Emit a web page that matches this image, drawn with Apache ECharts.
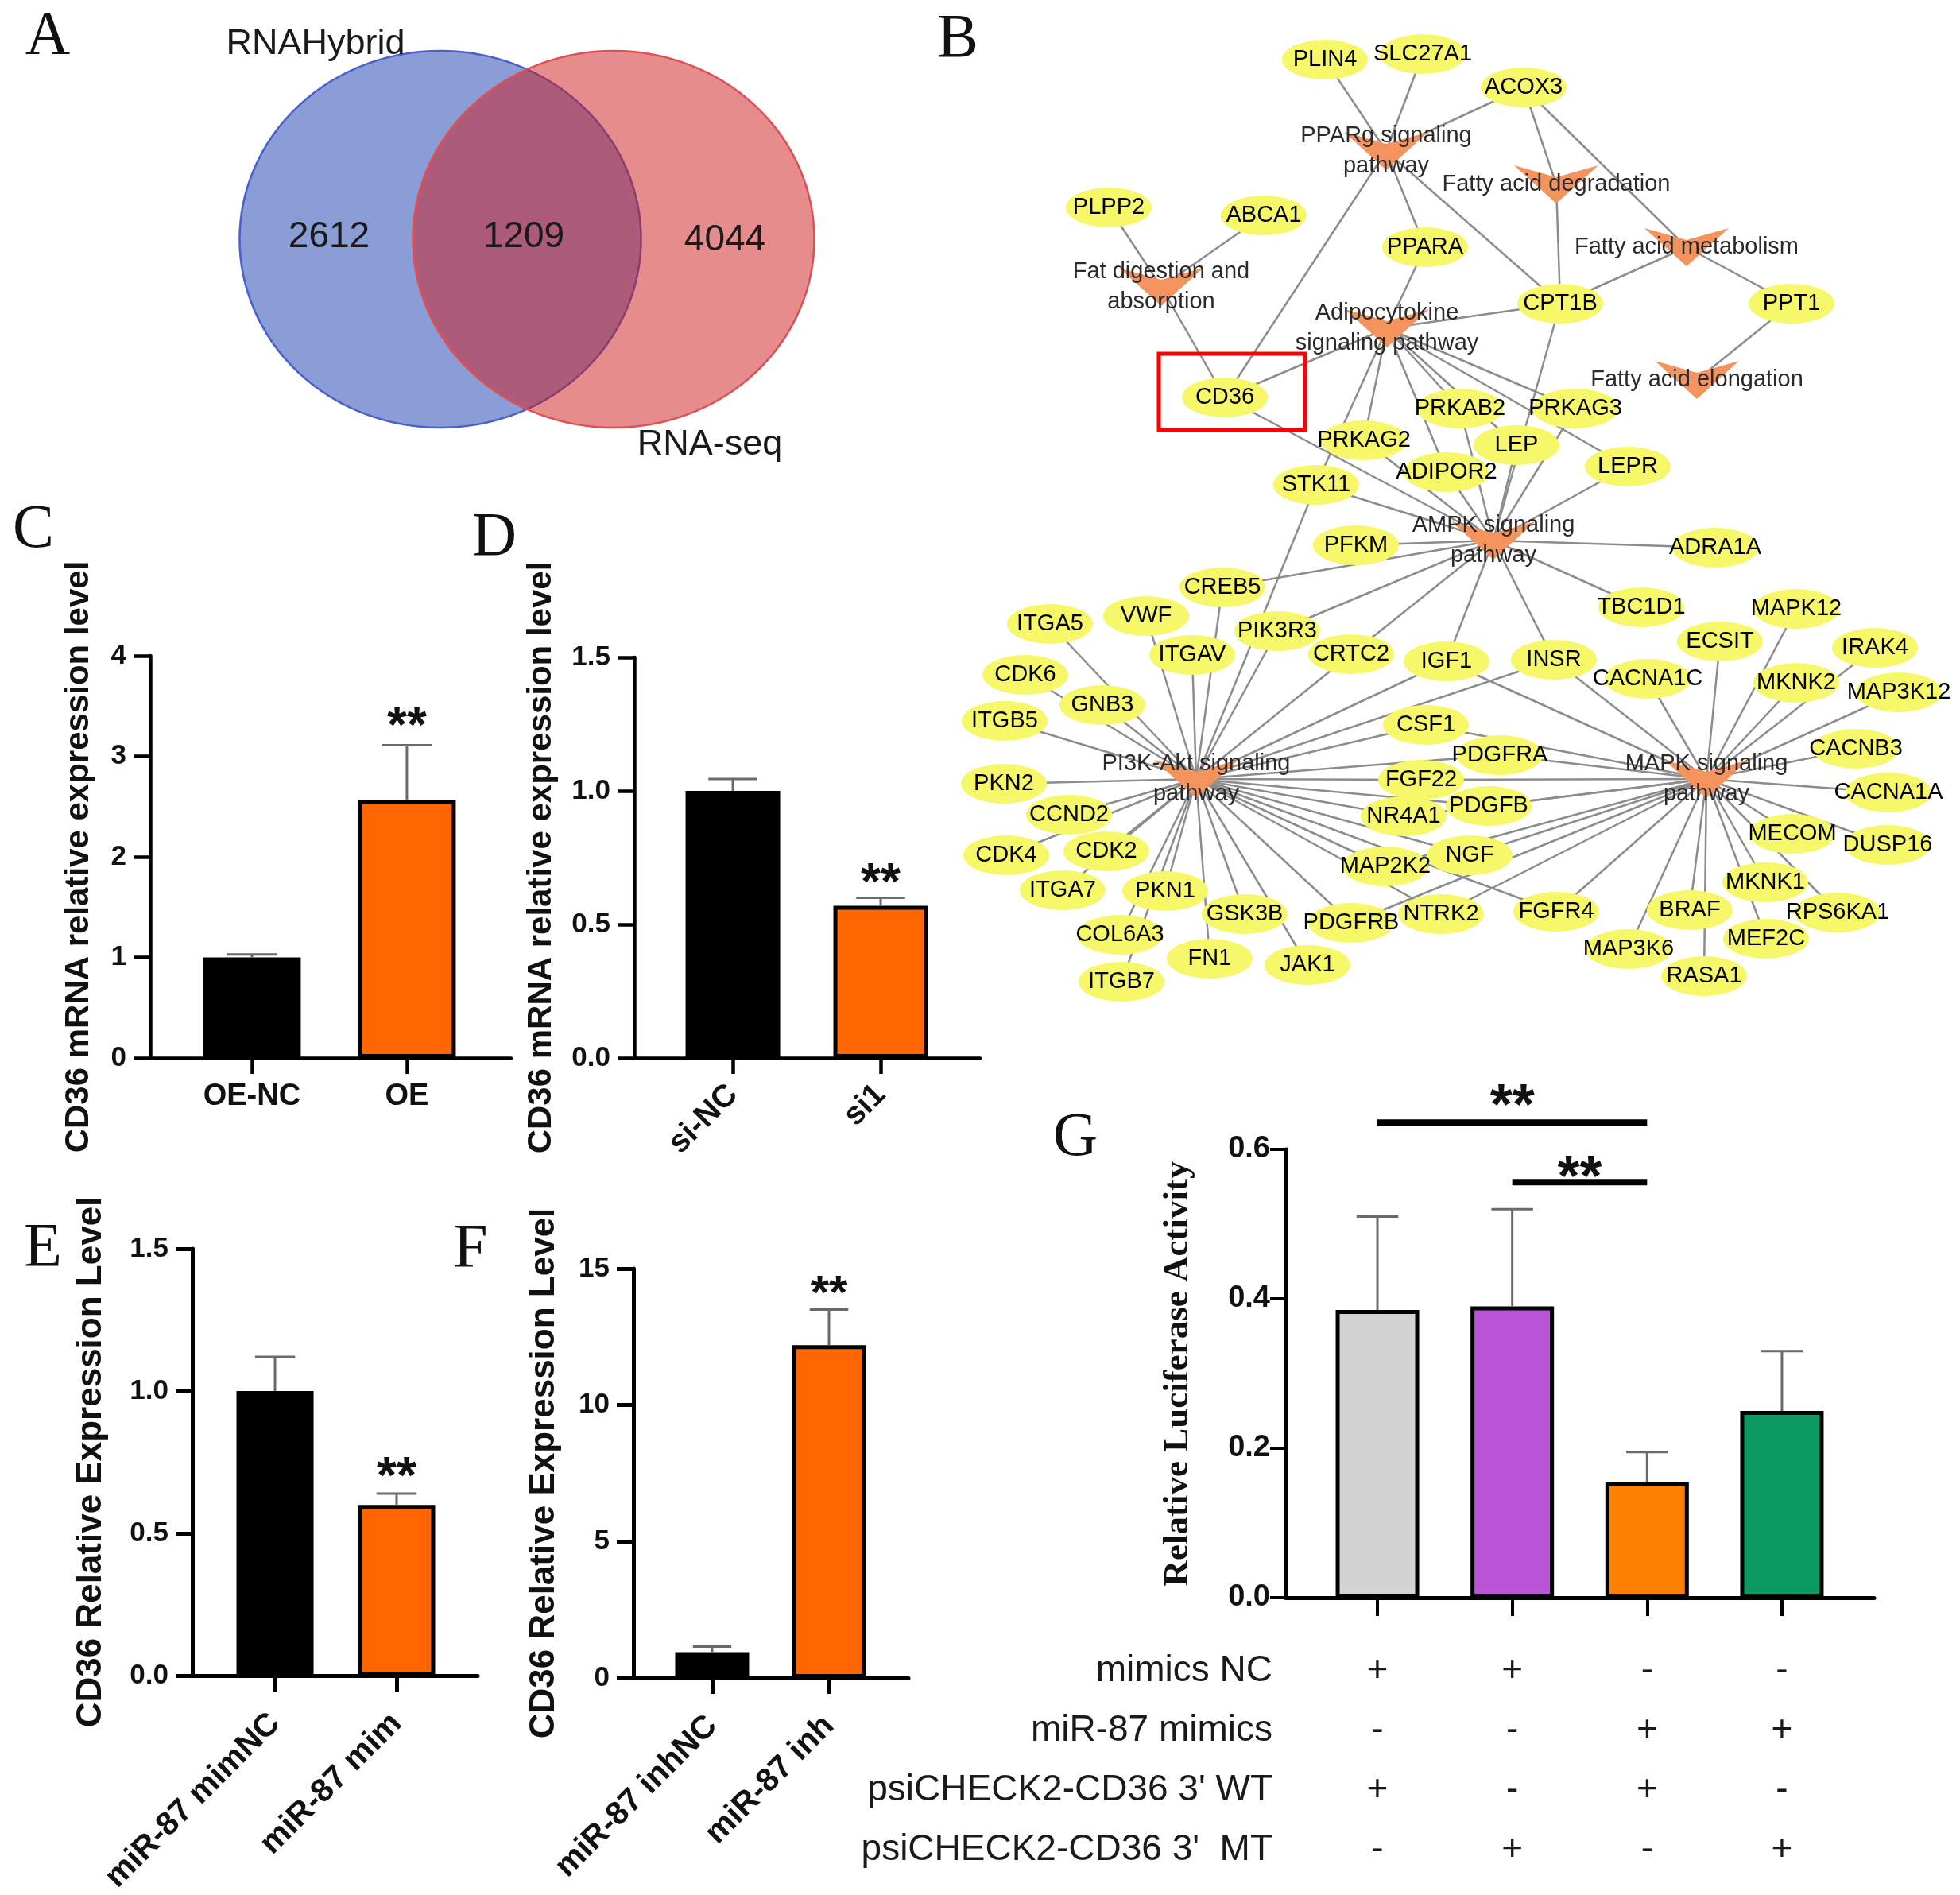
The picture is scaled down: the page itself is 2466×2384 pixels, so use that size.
<!DOCTYPE html>
<html><head><meta charset="utf-8">
<script src="https://cdn.jsdelivr.net/npm/echarts@6/dist/echarts.min.js"></script>
<style>html,body{margin:0;padding:0;background:#fff}#c{width:2466px;height:2384px}</style>
</head><body><div id="c"></div>
<script>
// ===================== DATA =====================
// Panel A (Venn)
const vennSets = ['RNAHybrid', 'RNA-seq'];
const vennCounts = [2612, 1209, 4044]; // RNAHybrid only, both, RNA-seq only

// Panel B (network)
const pathwayNames = ['PPARg signaling pathway', 'Fatty acid degradation', 'Fatty acid metabolism',
  'Fat digestion and absorption', 'Adipocytokine signaling pathway', 'Fatty acid elongation',
  'AMPK signaling pathway', 'PI3K-Akt signaling pathway', 'MAPK signaling pathway'];
const pathwayLabels = ['PPARg signaling\npathway', 'Fatty acid degradation', 'Fatty acid metabolism',
  'Fat digestion and\nabsorption', 'Adipocytokine\nsignaling pathway', 'Fatty acid elongation',
  'AMPK signaling\npathway', 'PI3K-Akt signaling\npathway', 'MAPK signaling\npathway'];
const pathwayGenes = [
  ['PLIN4', 'SLC27A1', 'ACOX3', 'PPARA', 'CD36', 'CPT1B'],
  ['ACOX3', 'CPT1B'],
  ['ACOX3', 'CPT1B', 'PPT1'],
  ['PLPP2', 'ABCA1', 'CD36'],
  ['PPARA', 'CPT1B', 'CD36', 'PRKAB2', 'PRKAG3', 'PRKAG2', 'LEP', 'ADIPOR2', 'LEPR', 'STK11'],
  ['PPT1'],
  ['CD36', 'CPT1B', 'PRKAB2', 'PRKAG3', 'PRKAG2', 'LEP', 'ADIPOR2', 'LEPR', 'STK11', 'PFKM', 'ADRA1A',
   'CREB5', 'TBC1D1', 'PIK3R3', 'CRTC2', 'IGF1', 'INSR'],
  ['STK11', 'CREB5', 'ITGA5', 'VWF', 'PIK3R3', 'ITGAV', 'CRTC2', 'CDK6', 'GNB3', 'ITGB5', 'PKN2', 'CCND2',
   'CDK4', 'CDK2', 'ITGA7', 'PKN1', 'COL6A3', 'ITGB7', 'FN1', 'GSK3B', 'JAK1', 'PDGFRB', 'NTRK2', 'MAP2K2',
   'NGF', 'NR4A1', 'PDGFB', 'FGF22', 'PDGFRA', 'CSF1', 'IGF1', 'INSR', 'FGFR4'],
  ['IGF1', 'INSR', 'CACNA1C', 'ECSIT', 'MAPK12', 'IRAK4', 'MKNK2', 'MAP3K12', 'CACNB3', 'CACNA1A', 'MECOM',
   'DUSP16', 'MKNK1', 'RPS6KA1', 'MEF2C', 'RASA1', 'BRAF', 'MAP3K6', 'FGFR4', 'NTRK2', 'NGF', 'PDGFB',
   'FGF22', 'PDGFRA', 'CSF1', 'NR4A1', 'MAP2K2', 'PDGFRB']
];
const highlightGene = 'CD36';
// node layout (network layout coordinates)
const nodeXY = {
  'PPARg signaling pathway': [1744, 190], 'Fatty acid degradation': [1958, 232],
  'Fatty acid metabolism': [2122, 311], 'Fat digestion and absorption': [1461, 361],
  'Adipocytokine signaling pathway': [1745, 413], 'Fatty acid elongation': [2135, 478],
  'AMPK signaling pathway': [1879, 680], 'PI3K-Akt signaling pathway': [1505, 980],
  'MAPK signaling pathway': [2147, 980],
  PLIN4: [1667, 75], SLC27A1: [1790, 68], ACOX3: [1917, 110], PLPP2: [1395, 261], ABCA1: [1590, 271],
  PPARA: [1793, 311], CPT1B: [1963, 382], PPT1: [2254, 382], CD36: [1541, 500], PRKAB2: [1837, 514],
  PRKAG3: [1982, 514], PRKAG2: [1716, 554], LEP: [1908, 560], ADIPOR2: [1820, 594], LEPR: [2048, 587],
  STK11: [1656, 610], PFKM: [1706, 686], ADRA1A: [2158, 689], CREB5: [1538, 739], TBC1D1: [2065, 764],
  MAPK12: [2260, 766], ITGA5: [1321, 785], VWF: [1442, 775], PIK3R3: [1607, 794], ECSIT: [2164, 807],
  IRAK4: [2359, 815], ITGAV: [1500, 824], CRTC2: [1700, 823], IGF1: [1820, 832], INSR: [1955, 830],
  CACNA1C: [2073, 854], MKNK2: [2260, 859], MAP3K12: [2389, 871], CDK6: [1290, 849], GNB3: [1387, 887],
  ITGB5: [1264, 907], CSF1: [1794, 912], PDGFRA: [1887, 950], CACNB3: [2335, 942], FGF22: [1788, 981],
  CACNA1A: [2376, 997], PKN2: [1263, 986], PDGFB: [1873, 1014], NR4A1: [1766, 1027], CCND2: [1345, 1025],
  MECOM: [2255, 1049], DUSP16: [2375, 1063], CDK4: [1266, 1076], CDK2: [1392, 1071], NGF: [1849, 1076],
  MAP2K2: [1743, 1090], ITGA7: [1337, 1120], PKN1: [1466, 1121], MKNK1: [2221, 1110], GSK3B: [1566, 1150],
  PDGFRB: [1700, 1161], NTRK2: [1813, 1150], FGFR4: [1958, 1147], BRAF: [2126, 1145], RPS6KA1: [2312, 1148],
  COL6A3: [1409, 1176], MAP3K6: [2049, 1194], MEF2C: [2222, 1181], FN1: [1522, 1206], JAK1: [1645, 1214],
  RASA1: [2144, 1228], ITGB7: [1411, 1235]
};

// Panels C-F
const catC = ['OE-NC', 'OE'];
const valC = [1.0, 2.57];
const errC = [0.03, 0.54];
const sigC = ['', '**'];
const catD = ['si-NC', 'si1'];
const valD = [1.0, 0.57];
const errD = [0.045, 0.03];
const sigD = ['', '**'];
const catE = ['miR-87 mimNC', 'miR-87 mim'];
const valE = [1.0, 0.6];
const errE = [0.12, 0.04];
const sigE = ['', '**'];
const catF = ['miR-87 inhNC', 'miR-87 inh'];
const valF = [0.95, 12.2];
const errF = [0.2, 1.3];
const sigF = ['', '**'];
const titleCD = 'CD36 mRNA relative expression level';
const titleEF = 'CD36 Relative Expression Level';

// Panel G
const valG = [0.385, 0.39, 0.155, 0.25];
const errG = [0.125, 0.13, 0.04, 0.08];
const sigPairsG = [[1, 3, '**'], [2, 3, '**']];
const sigLevelG = [0.636, 0.556];
const titleG = 'Relative Luciferase Activity';
const tableRows = ['mimics NC', 'miR-87 mimics', "psiCHECK2-CD36 3' WT", "psiCHECK2-CD36 3'  MT"];
const tableSigns = [
  ['+', '+', '-', '-'],
  ['-', '-', '+', '+'],
  ['+', '-', '+', '-'],
  ['-', '+', '-', '+']
];

// ===================== STYLE / LAYOUT =====================
const SANS = '"Liberation Sans", Arial, Helvetica, sans-serif';
const SERIF = '"Liberation Serif", "Times New Roman", serif';
const W = 2466, H = 2384;
const CLEAR = 'rgba(0,0,0,0)';
const VPATH = 'path://M0,0 L53,15 L106,0 L53,48 Z';
const panelLetters = [['A', 60, 47], ['B', 1205, 51], ['C', 42, 668], ['D', 622, 678], ['E', 54, 1572], ['F', 592, 1573], ['G', 1353, 1433]];
const vennLayout = { centers: [[554, 301], [772, 301]], size: [505, 474],
  fills: ['rgba(23,59,173,0.5)', 'rgba(205,25,25,0.5)'], borders: ['rgba(75,95,205,1)', 'rgba(222,80,85,1)'],
  countPos: [[414, 298], [659, 298], [912, 302]], namePos: [[397, 56], [893, 560]] };

const PL = {
  C: { grid: { left: 189, top: 825, width: 454, height: 506 }, xMin: 0.344, xMax: 2.672, barW: 123, yMax: 4, yInt: 1, dec: 0,
       rot: 0, labMargin: 30, labSize: 38, nameGap: 69, nameSize: 42, sigSize: 64, sigGap: 36, axisW: 4.5 },
  D: { grid: { left: 798, top: 827, width: 435, height: 504 }, xMin: 0.333, xMax: 2.672, barW: 119, yMax: 1.5, yInt: 0.5, dec: 1,
       rot: 45, labMargin: 40, labSize: 40, nameGap: 96, nameSize: 42, sigSize: 64, sigGap: 31, axisW: 4.5 },
  E: { grid: { left: 242, top: 1571, width: 359, height: 537 }, xMin: 0.32, xMax: 2.667, barW: 97, yMax: 1.5, yInt: 0.5, dec: 1,
       rot: 45, labMargin: 54, labSize: 41, nameGap: 105, nameSize: 44, sigSize: 64, sigGap: 33, axisW: 5 },
  F: { grid: { left: 797, top: 1596, width: 346, height: 515 }, xMin: 0.327, xMax: 2.68, barW: 93, yMax: 15, yInt: 5, dec: 0,
       rot: 45, labMargin: 54, labSize: 41, nameGap: 90, nameSize: 44, sigSize: 60, sigGap: 32, axisW: 5 }
};
const barColors2 = ['#000000', '#FF6600'];
const PG = { grid: { left: 1618, top: 1446, width: 740, height: 564 }, xMin: 0.322, xMax: 4.684, barW: 105,
  colors: ['#D3D3D3', '#B955D6', '#FF8000', '#0B9A61'], nameGap: 113, sigGaps: [35, 20], sigSize: 72 };
const PT = { grid: { left: 1618, top: 2065, width: 740, height: 300 } };

// ===================== BUILD =====================
const grids = [], xAxes = [], yAxes = [], series = [];

// full-canvas grid (index 0) for Venn + network
grids.push({ left: 0, top: 0, width: W, height: H, outerBoundsMode: 'none', containLabel: false });
xAxes.push({ gridIndex: 0, type: 'value', min: 0, max: W, show: false });
yAxes.push({ gridIndex: 0, type: 'value', min: 0, max: H, inverse: true, show: false });

// Venn
series.push({
  type: 'scatter', xAxisIndex: 0, yAxisIndex: 0, silent: true, z: 1,
  data: vennSets.map((s, i) => ({ name: s, value: vennLayout.centers[i], symbolSize: vennLayout.size,
    itemStyle: { color: vennLayout.fills[i], opacity: 1, borderColor: vennLayout.borders[i], borderWidth: 2.5 } }))
});
series.push({
  type: 'scatter', xAxisIndex: 0, yAxisIndex: 0, silent: true, z: 3, symbolSize: 2,
  itemStyle: { color: CLEAR, opacity: 1 },
  label: { show: true, position: 'inside', fontFamily: SANS, fontSize: 46, color: '#1a1a1a' },
  data: vennCounts.map((c, i) => ({ value: vennLayout.countPos[i], label: { formatter: String(c) } }))
    .concat(vennSets.map((s, i) => ({ value: vennLayout.namePos[i], label: { formatter: s, fontSize: 45 } })))
});

// Network
const nodes = [];
pathwayNames.forEach((p, i) => nodes.push({ name: p, value: nodeXY[p], symbol: VPATH, symbolSize: [106, 48],
  itemStyle: { color: '#F5935F' }, label: { formatter: pathwayLabels[i], color: '#2a2a2a', lineHeight: 38 } }));
const genesSeen = {};
pathwayGenes.forEach(list => list.forEach(g => {
  if (!genesSeen[g]) { genesSeen[g] = 1; nodes.push({ name: g, value: nodeXY[g], symbol: 'circle', symbolSize: [108, 50],
    itemStyle: { color: '#F7F76A' }, label: { color: '#000' } }); }
}));
const links = [];
pathwayNames.forEach((p, i) => pathwayGenes[i].forEach(g => links.push({ source: g, target: p })));
series.push({
  type: 'graph', coordinateSystem: 'cartesian2d', xAxisIndex: 0, yAxisIndex: 0, layout: 'none', z: 2,
  silent: true, emphasis: { disabled: true },
  data: nodes, links: links,
  label: { show: true, position: 'inside', fontFamily: SANS, fontSize: 29 },
  lineStyle: { color: '#8c8c8c', width: 2.5, opacity: 1, curveness: 0 }
});
series.push({
  type: 'custom', xAxisIndex: 0, yAxisIndex: 0, z: 10, silent: true,
  data: [nodeXY[highlightGene]],
  renderItem: (params, api) => {
    const p = api.coord([api.value(0), api.value(1)]);
    return { type: 'rect', shape: { x: p[0] - 83, y: p[1] - 55, width: 184, height: 96 },
      style: { fill: 'none', stroke: '#FF0000', lineWidth: 5 } };
  }
});

// Bar panels C-F
function addBarPanel(cfg, cats, vals, errs, sigs, title) {
  const gi = grids.length;
  grids.push(Object.assign({ outerBoundsMode: 'none', containLabel: false }, cfg.grid));
  const ticks = cats.map((c, i) => i + 1);
  xAxes.push({
    gridIndex: gi, type: 'value', min: cfg.xMin, max: cfg.xMax, splitLine: { show: false },
    axisLine: { show: true, onZero: false, lineStyle: { color: '#000', width: cfg.axisW } },
    axisTick: { show: true, customValues: ticks, length: 20, lineStyle: { color: '#000', width: cfg.axisW } },
    axisLabel: { show: true, customValues: ticks, formatter: v => cats[Math.round(v) - 1] || '', rotate: cfg.rot,
      margin: cfg.labMargin, fontFamily: SANS, fontWeight: 'bold', fontSize: cfg.labSize, color: '#111' }
  });
  yAxes.push({
    gridIndex: gi, type: 'value', min: 0, max: cfg.yMax, interval: cfg.yInt, splitLine: { show: false },
    axisLine: { show: true, lineStyle: { color: '#000', width: cfg.axisW } },
    axisTick: { show: true, length: 21, lineStyle: { color: '#000', width: cfg.axisW } },
    axisLabel: { formatter: v => v.toFixed(cfg.dec), margin: 30, fontFamily: SANS, fontWeight: 'bold', fontSize: 35, color: '#111' },
    name: title, nameLocation: 'middle', nameRotate: 90, nameGap: cfg.nameGap,
    nameTextStyle: { fontFamily: SANS, fontWeight: 'bold', fontSize: cfg.nameSize, color: '#111' }
  });
  series.push({
    type: 'bar', xAxisIndex: gi, yAxisIndex: gi, barWidth: cfg.barW, silent: true, z: 2,
    data: vals.map((v, i) => ({ value: [i + 1, v], itemStyle: { color: barColors2[i], borderColor: '#000', borderWidth: 5 } }))
  });
  series.push({
    type: 'custom', xAxisIndex: gi, yAxisIndex: gi, z: 3, silent: true,
    data: vals.map((v, i) => [i + 1, v + errs[i]]),
    renderItem: (params, api) => {
      const i = params.dataIndex, x = i + 1;
      const p0 = api.coord([x, vals[i]]), p1 = api.coord([x, vals[i] + errs[i]]);
      const cap = cfg.barW / 2;
      const ch = [
        { type: 'line', shape: { x1: p0[0], y1: p0[1], x2: p1[0], y2: p1[1] }, style: { stroke: '#6a6a6a', lineWidth: 3 } },
        { type: 'line', shape: { x1: p1[0] - cap / 2 - 1, y1: p1[1], x2: p1[0] + cap / 2 + 1, y2: p1[1] }, style: { stroke: '#6a6a6a', lineWidth: 3 } }
      ];
      if (sigs[i]) ch.push({ type: 'text', style: { text: sigs[i], x: p1[0], y: p1[1] - cfg.sigGap + 0.23 * cfg.sigSize,
        textAlign: 'center', textVerticalAlign: 'middle', align: 'center', verticalAlign: 'middle',
        font: 'bold ' + cfg.sigSize + 'px ' + SANS, fill: '#111' } });
      return { type: 'group', children: ch };
    }
  });
}
addBarPanel(PL.C, catC, valC, errC, sigC, titleCD);
addBarPanel(PL.D, catD, valD, errD, sigD, titleCD);
addBarPanel(PL.E, catE, valE, errE, sigE, titleEF);
addBarPanel(PL.F, catF, valF, errF, sigF, titleEF);

// Panel G
(function () {
  const gi = grids.length;
  grids.push(Object.assign({ outerBoundsMode: 'none', containLabel: false }, PG.grid));
  const ticks = valG.map((v, i) => i + 1);
  xAxes.push({
    gridIndex: gi, type: 'value', min: PG.xMin, max: PG.xMax, splitLine: { show: false },
    axisLine: { show: true, onZero: false, lineStyle: { color: '#000', width: 5 } },
    axisTick: { show: true, customValues: ticks, length: 23, lineStyle: { color: '#000', width: 4 } },
    axisLabel: { show: false }
  });
  yAxes.push({
    gridIndex: gi, type: 'value', min: 0, max: 0.6, interval: 0.2, splitLine: { show: false },
    axisLine: { show: true, lineStyle: { color: '#000', width: 5 } },
    axisTick: { show: true, length: 20, lineStyle: { color: '#000', width: 4 } },
    axisLabel: { formatter: v => v.toFixed(1), margin: 20, fontFamily: SANS, fontWeight: 'bold', fontSize: 38, color: '#111' },
    name: titleG, nameLocation: 'middle', nameRotate: 90, nameGap: PG.nameGap,
    nameTextStyle: { fontFamily: SERIF, fontWeight: 'bold', fontSize: 45, color: '#111' }
  });
  series.push({
    type: 'bar', xAxisIndex: gi, yAxisIndex: gi, barWidth: PG.barW, silent: true, z: 2,
    data: valG.map((v, i) => ({ value: [i + 1, v], itemStyle: { color: PG.colors[i], borderColor: '#000', borderWidth: 5 } }))
  });
  series.push({
    type: 'custom', xAxisIndex: gi, yAxisIndex: gi, z: 3, silent: true,
    data: valG.map((v, i) => [i + 1, v + errG[i]]),
    renderItem: (params, api) => {
      const i = params.dataIndex, x = i + 1;
      const p0 = api.coord([x, valG[i]]), p1 = api.coord([x, valG[i] + errG[i]]);
      const cap = PG.barW / 2;
      return { type: 'group', children: [
        { type: 'line', shape: { x1: p0[0], y1: p0[1], x2: p1[0], y2: p1[1] }, style: { stroke: '#6a6a6a', lineWidth: 3 } },
        { type: 'line', shape: { x1: p1[0] - cap / 2, y1: p1[1], x2: p1[0] + cap / 2, y2: p1[1] }, style: { stroke: '#6a6a6a', lineWidth: 3 } }
      ] };
    }
  });
  series.push({
    type: 'custom', xAxisIndex: gi, yAxisIndex: gi, z: 3, silent: true, clip: false,
    data: sigPairsG.map((p, k) => [p[0], sigLevelG[k]]),
    renderItem: (params, api) => {
      const k = params.dataIndex, pr = sigPairsG[k];
      const a = api.coord([pr[0], sigLevelG[k]]), b = api.coord([pr[1], sigLevelG[k]]);
      return { type: 'group', children: [
        { type: 'line', shape: { x1: a[0], y1: a[1], x2: b[0], y2: b[1] }, style: { stroke: '#000', lineWidth: 8 } },
        { type: 'text', style: { text: pr[2], x: (a[0] + b[0]) / 2, y: a[1] - PG.sigGaps[k] + 0.23 * PG.sigSize,
          textAlign: 'center', textVerticalAlign: 'middle', align: 'center', verticalAlign: 'middle',
          font: 'bold ' + PG.sigSize + 'px ' + SANS, fill: '#111' } }
      ] };
    }
  });
  // table under G
  const ti = grids.length;
  grids.push(Object.assign({ outerBoundsMode: 'none', containLabel: false }, PT.grid));
  xAxes.push({ gridIndex: ti, type: 'value', min: PG.xMin, max: PG.xMax, show: false });
  yAxes.push({ gridIndex: ti, type: 'category', data: tableRows, inverse: true,
    axisLine: { show: false }, axisTick: { show: false }, splitLine: { show: false },
    axisLabel: { margin: 17, fontFamily: SANS, fontSize: 46, color: '#1a1a1a' } });
  const tdata = [];
  tableSigns.forEach((row, r) => row.forEach((s, c) => tdata.push({ value: [c + 1, r], label: { formatter: s } })));
  series.push({ type: 'scatter', xAxisIndex: ti, yAxisIndex: ti, silent: true, symbolSize: 2,
    itemStyle: { color: CLEAR, opacity: 1 },
    label: { show: true, position: 'inside', fontFamily: SANS, fontSize: 46, color: '#1a1a1a' }, data: tdata });
})();

const option = {
  animation: false,
  backgroundColor: '#ffffff',
  tooltip: { show: false },
  grid: grids, xAxis: xAxes, yAxis: yAxes, series: series,
  graphic: panelLetters.map(([t, x, y]) => ({ type: 'text', x: x, y: y, silent: true,
    style: { text: t, font: '78px ' + SERIF, fill: '#111', textAlign: 'center', textVerticalAlign: 'middle', align: 'center', verticalAlign: 'middle' } }))
};
const chart = echarts.init(document.getElementById('c'), null, { renderer: 'canvas' });
chart.setOption(option);
</script></body></html>
